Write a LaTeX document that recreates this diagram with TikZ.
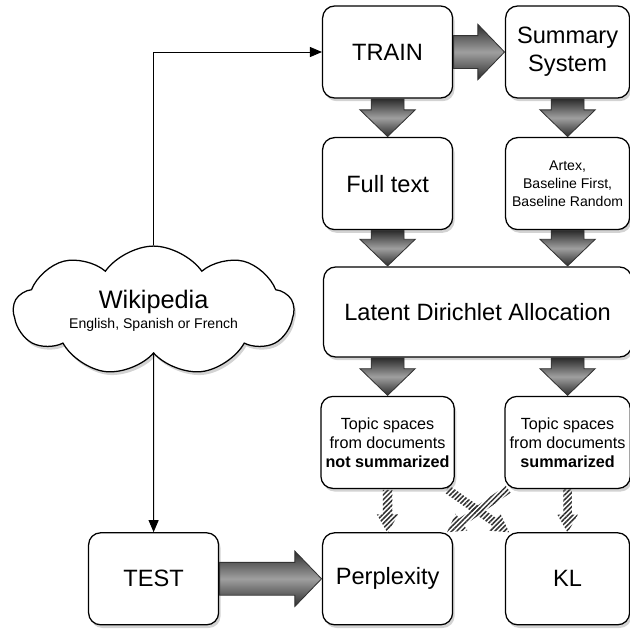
\documentclass[tikz,border=0pt]{standalone}
\usepackage{fontspec}
\setmainfont{Liberation Sans}
\usetikzlibrary{shapes.geometric, shapes.arrows, shapes.symbols, arrows.meta, calc, shadows, patterns.meta}
\newcommand{\artexfont}{\fontsize{10}{12.6}\selectfont}
\newcommand{\topicfont}{\fontsize{11.5}{13.4}\selectfont}
\tikzstyle{box} = [rectangle, rounded corners=0.3cm, minimum width=3.25cm, minimum height=2.3cm, text centered, align=center, draw=black, line width=0.9pt, fill=white, drop shadow={shadow xshift=0.05cm, shadow yshift=-0.08cm, opacity=0.35}, font=\fontsize{16.8}{20}\selectfont]
\tikzstyle{cloudbox} = [cloud, cloud puffs=9, cloud puff arc=110, aspect=2.8, minimum width=7cm, minimum height=2.2cm, align=center, draw=black, line width=0.9pt, fill=white, drop shadow={shadow xshift=0.05cm, shadow yshift=-0.08cm, opacity=0.35}]
\tikzstyle{fatarrow} = [single arrow, draw=black!80, line width=0.6pt, inner xsep=0pt, inner ysep=0.4cm, single arrow head extend=0.28cm, single arrow tip angle=92, top color=gray!35!black, bottom color=gray!35!black, middle color=gray!75]
\tikzstyle{hatcharrow} = [single arrow, inner xsep=0pt, inner ysep=0.1cm, single arrow head extend=0.15cm, single arrow tip angle=60, pattern={Lines[angle=45, distance=2.4pt, line width=1.1pt]}, pattern color=gray!40!black]
\tikzstyle{arrow} = [line width=0.6pt, -{Triangle[length=0.3cm, width=0.25cm]}]
\tikzset{
  fat/.style={to path={let \p1=($(\tikztotarget)-(\tikztostart)$), \n1={veclen(\x1,\y1)}, \n2={atan2(\y1,\x1)} in node[fatarrow, minimum height=\n1-0.6pt, rotate=\n2, anchor=tail] at (\tikztostart) {} (\tikztotarget)}},
  hatch/.style={to path={let \p1=($(\tikztotarget)-(\tikztostart)$), \n1={veclen(\x1,\y1)}, \n2={atan2(\y1,\x1)} in node[hatcharrow, minimum height=\n1, rotate=\n2, anchor=tail] at (\tikztostart) {} (\tikztotarget)}}
}
\begin{document}
\begin{tikzpicture}[node distance=4.5cm]
\useasboundingbox (0,0) rectangle (15.75,-15.75);
\node (train) [box] at (9.69,-1.3) {TRAIN};
\node (summary) [box, right of=train, minimum width=3.1cm] {Summary\\System};
\node (fulltext) [box, below of=train, node distance=3.29cm] {Full text};
\node (artex) [box, below of=summary, node distance=3.29cm, minimum width=3.1cm, font=\artexfont] {Artex,\\Baseline First,\\Baseline Random};
\node (lda) [box, below of=fulltext, node distance=3.21cm, xshift=2.25cm, minimum width=7.7cm, minimum height=2.25cm] {Latent Dirichlet Allocation};
\node (notsum) [box, below of=lda, node distance=3.26cm, xshift=-2.25cm, font=\topicfont] {Topic spaces\\from documents\\\textbf{not summarized}};
\node (withsum) [box, right of=notsum, minimum width=3.1cm, font=\topicfont] {Topic spaces\\from documents\\\textbf{summarized}};
\node (perplexity) [box, below of=notsum, node distance=3.41cm] {Perplexity};
\node (kl) [box, below of=withsum, node distance=3.41cm, minimum width=3.1cm] {KL};
\node (test) [box, left of=perplexity, node distance=5.85cm] {TEST};
\node (wiki) [cloudbox, above of=test, node distance=6.7cm] {{\fontsize{18}{21}\selectfont Wikipedia}\\[2pt]{\fontsize{10}{12}\selectfont English, Spanish or French}};
% thin connectors
\draw [arrow] (wiki.north) |- (train.west);
\draw [arrow] (wiki.south) -- (test.north);
% big arrows
\path (train.east) to[fat] (summary.west);
\path (train.south) to[fat] (fulltext.north);
\path (summary.south) to[fat] (artex.north);
\path (fulltext.south) to[fat] (fulltext.south |- lda.north);
\path (artex.south) to[fat] (artex.south |- lda.north);
\path (lda.south -| notsum) to[fat] (notsum.north);
\path (lda.south -| withsum) to[fat] (withsum.north);
\path (test.east) to[fat] (perplexity.west);
% hatched arrows
\path (notsum.south) to[hatch] (perplexity.north);
\path (withsum.south) to[hatch] (kl.north);
\path ([xshift=-0.2cm]notsum.south east) to[hatch] ([xshift=0.1cm]kl.north west);
\path ([xshift=0.1cm]withsum.south west) to[hatch] ([xshift=-0.15cm]perplexity.north east);
\end{tikzpicture}
\end{document}
